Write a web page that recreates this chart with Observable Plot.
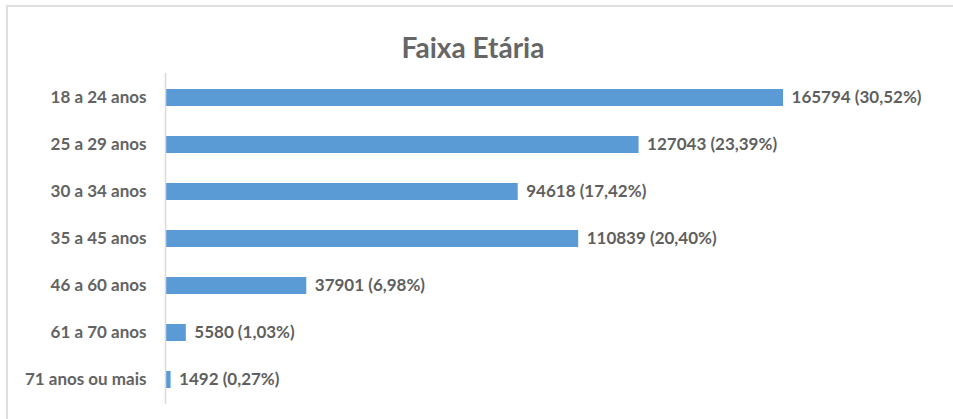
<!DOCTYPE html>
<html>
<head>
<meta charset="utf-8">
<script src="https://cdn.jsdelivr.net/npm/d3@7"></script>
<script src="https://cdn.jsdelivr.net/npm/@observablehq/plot@0.6"></script>
<style>
  html, body { margin: 0; padding: 0; background: #fff; }
  #wrap { position: relative; width: 953px; height: 419px; overflow: hidden; }
  #frame { position: absolute; left: 6px; top: 5px; width: 960px; height: 430px; border: 2px solid #dedede; box-sizing: border-box; }
  #title { position: absolute; left: 0; width: 946px; top: 30px; text-align: center;
           font-family: Lato, "Open Sans", sans-serif; font-weight: bold; font-size: 28px; color: #666666; line-height: 34px; }
  #chart { position: absolute; left: 0; top: 0; }
</style>
</head>
<body>
<div id="wrap">
  <div id="frame"></div>
  <div id="chart"></div>
  <div id="title">Faixa Etária</div>
</div>
<script>
const categories = ["18 a 24 anos", "25 a 29 anos", "30 a 34 anos", "35 a 45 anos", "46 a 60 anos", "61 a 70 anos", "71 anos ou mais"];
const values = [165794, 127043, 94618, 110839, 37901, 5580, 1492];
const percents = [30.52, 23.39, 17.42, 20.40, 6.98, 1.03, 0.27];

const data = categories.map((c, i) => ({
  cat: c,
  value: values[i],
  label: `${values[i]} (${percents[i].toFixed(2).replace(".", ",")}%)`
}));

const chart = Plot.plot({
  width: 953,
  height: 419,
  marginLeft: 165,
  marginRight: 117,
  marginTop: 73,
  marginBottom: 15,
  style: { fontFamily: "Lato, 'Open Sans', sans-serif", background: "transparent" },
  x: { domain: [0, 180000], axis: null },
  y: { domain: categories, paddingInner: 0.64, paddingOuter: 0.32, label: null },
  marks: [
    Plot.axisY({ tickSize: 0, tickPadding: 19, fontSize: 17, fontWeight: "bold", fill: "#636363", label: null }),
    Plot.barX(data, { x: "value", y: "cat", fill: "#5b9bd5" }),
    Plot.ruleX([0], { stroke: "#d9d9d9", strokeWidth: 1.5 }),
    Plot.text(data, { x: "value", y: "cat", text: "label", textAnchor: "start", dx: 8, fontSize: 17, fontWeight: "bold", fill: "#5f5f5f" })
  ]
});
document.getElementById("chart").appendChild(chart);
</script>
</body>
</html>
